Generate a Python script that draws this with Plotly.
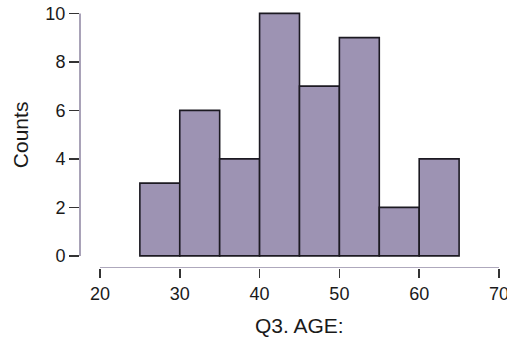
import plotly.graph_objects as go

bin_left = [25, 30, 35, 40, 45, 50, 55, 60]
bin_width = 5
counts = [3, 6, 4, 10, 7, 9, 2, 4]
x_ticks = [20, 30, 40, 50, 60, 70]
y_ticks = [0, 2, 4, 6, 8, 10]
x_title = "Q3. AGE:"
y_title = "Counts"

centers = [b + bin_width / 2 for b in bin_left]

fig = go.Figure(go.Bar(
    x=centers, y=counts, width=[bin_width] * len(counts),
    marker=dict(color="#9d93b3", line=dict(color="#1c1a22", width=1.6)),
    hoverinfo="skip",
))

font = "Liberation Sans, Arial, sans-serif"
axis_col = "#938ba6"

fig.update_layout(
    template="none",
    width=507, height=343,
    margin=dict(l=79.5, r=4, t=11.3, b=75.2, pad=0),
    plot_bgcolor="white", paper_bgcolor="white",
    showlegend=False,
    hovermode=False,
    font=dict(family=font, size=18, color="#1a1a1a"),
    xaxis=dict(range=[17.5, 70.5], tickvals=x_ticks, ticks="outside", ticklen=9,
               tickwidth=1.6, tickcolor="#333", showgrid=False, zeroline=False,
               showline=False, tickfont=dict(size=18), automargin=False,
               ticklabeloverflow="allow", fixedrange=True),
    yaxis=dict(range=[-0.5, 10.1], tickvals=y_ticks, ticks="outside", ticklen=10,
               tickwidth=1.6, tickcolor="#333", showgrid=False, zeroline=False,
               showline=False, tickfont=dict(size=18), automargin=False,
               ticklabeloverflow="allow", fixedrange=True),
    shapes=[
        dict(type="line", xref="paper", yref="y", x0=0, x1=0, y0=0, y1=10,
             line=dict(color=axis_col, width=1.6)),
        dict(type="line", xref="x", yref="y", x0=20, x1=70, y0=-0.5, y1=-0.5,
             line=dict(color=axis_col, width=1.6)),
    ],
    annotations=[
        dict(text=x_title, xref="x", yref="paper", x=45, y=0, yshift=-57,
             showarrow=False, font=dict(size=21), yanchor="middle"),
        dict(text=y_title, xref="paper", yref="y", x=0, xshift=-59.5, y=5,
             showarrow=False, textangle=-90, font=dict(size=21), xanchor="center"),
    ],
)

fig.write_html("out.html", config={"displayModeBar": False, "staticPlot": True},
               post_script="document.body.style.margin='0';")
